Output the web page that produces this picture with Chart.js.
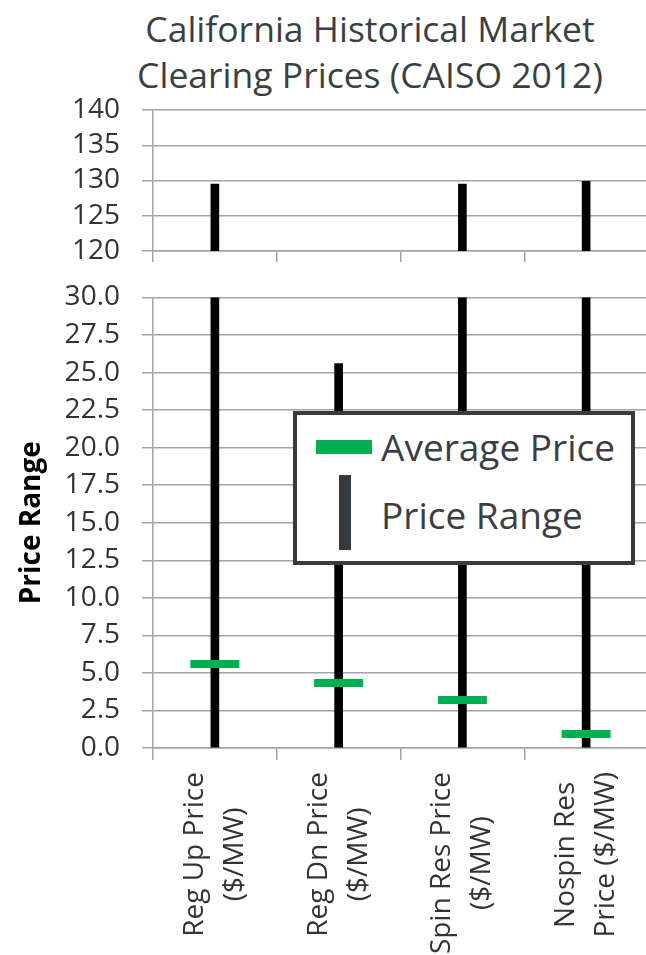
<!DOCTYPE html>
<html>
<head>
<meta charset="utf-8">
<script src="https://cdn.jsdelivr.net/npm/chart.js@4.4.1/dist/chart.umd.min.js"></script>
<style>
  html, body { margin: 0; padding: 0; background: #fff; width: 646px; height: 955px; overflow: hidden; }
  #title { position: absolute; left: 70px; width: 600px; top: 5px; text-align: center;
           font: 35.5px 'Open Sans'; line-height: 46px; color: #3a3f44; }
  canvas { position: absolute; left: 0; }
  #topChart { top: 0; width: 660px; height: 270px; }
  #botChart { top: 270px; width: 660px; height: 685px; }
  #legend { position: absolute; left: 293px; top: 411px; width: 342px; height: 154px; box-sizing: border-box;
            border: 4px solid #363b40; background: #fff; font: 37px 'Open Sans'; color: #3a3f44; }
  #legend .sw { position: absolute; }
  #legend .txt { position: absolute; left: 84px; line-height: 50px; white-space: nowrap; }
</style>
</head>
<body>
<div id="title">California Historical Market<br>Clearing Prices (CAISO 2012)</div>
<canvas id="topChart" width="660" height="270"></canvas>
<canvas id="botChart" width="660" height="685"></canvas>
<div id="legend"></div>
<script>
// market products (x labels, two lines each)
const categories = [
  ['Reg Up Price', '($/MW)'],
  ['Reg Dn Price', '($/MW)'],
  ['Spin Res Price', '($/MW)'],
  ['Nospin Res', 'Price ($/MW)'],
];
// price range min / max per product ($/MW)
const rangeLow = [0, 0, 0, 0];
const rangeHigh = [129.5, 25.6, 129.5, 129.9];
// average clearing price
const averagePrice = [5.6, 4.33, 3.2, 0.93];

// broken axis: upper and lower panel ticks
const upperTicks = [120, 125, 130, 135, 140];
const lowerTicks = [0, 2.5, 5, 7.5, 10, 12.5, 15, 17.5, 20, 22.5, 25, 27.5, 30];

const GRID = '#a3a3a3';
const TEXT = '#333333';
const GREEN = '#00B050';

Chart.defaults.font.family = "'Open Sans'";
Chart.defaults.color = TEXT;

const rangeData = categories.map((_, i) => [rangeLow[i], rangeHigh[i]]);

function rangeDataset() {
  return {
    type: 'bar',
    label: 'Price Range',
    data: rangeData,
    backgroundColor: '#000',
    barThickness: 8,
    order: 1,
  };
}

function avgDataset() {
  return {
    type: 'line',
    label: 'Average Price',
    data: averagePrice,
    showLine: false,
    pointStyle: 'line',
    pointRadius: 24.5,
    pointHoverRadius: 24.5,
    pointBorderWidth: 8,
    pointBorderColor: GREEN,
    pointBackgroundColor: GREEN,
    order: 0,
  };
}

function xScale(height, tickLen) {
  return {
    offset: true,
    grid: { offset: true, drawOnChartArea: false, drawTicks: true, tickLength: tickLen, color: GRID, lineWidth: 1.5 },
    border: { color: GRID, width: 1.5 },
    ticks: { display: false },
    afterFit: s => { s.height = height; },
  };
}

function yScale(ticks, min, max, fmt, extra) {
  return Object.assign({
    min, max,
    afterBuildTicks: s => { s.ticks = ticks.map(v => ({ value: v })); },
    grid: { color: GRID, lineWidth: 1.5, tickLength: 11 },
    border: { color: GRID, width: 1.5 },
    ticks: { font: { size: 28 }, color: TEXT, padding: 22, autoSkip: false, callback: fmt },
    // fixed width, and no label overflow padding (layout padding places the panel)
    afterFit: s => { s.width = 153; s.paddingTop = 0; s.paddingBottom = 0; },
  }, extra || {});
}

const baseOptions = {
  responsive: false,
  animation: false,
  events: [],
  plugins: { legend: { display: false }, tooltip: { enabled: false } },
};

// upper panel 120-140
new Chart(document.getElementById('topChart'), {
  type: 'bar',
  data: { labels: categories, datasets: [rangeDataset()] },
  options: {
    ...baseOptions,
    layout: { autoPadding: false, padding: { top: 110, right: 12 } },
    scales: {
      x: xScale(19, 11),
      y: yScale(upperTicks, 120, 140, v => String(v)),
    },
  },
});

// rotated, centred multi-line category labels
const xLabels = {
  id: 'xLabels',
  afterDraw(chart) {
    const { ctx } = chart;
    const sx = chart.scales.x;
    ctx.save();
    ctx.font = "28px 'Open Sans'";
    ctx.fillStyle = TEXT;
    ctx.textAlign = 'center';
    ctx.textBaseline = 'middle';
    const lineGap = 40;
    categories.forEach((lines, i) => {
      const maxW = Math.max(...lines.map(l => ctx.measureText(l).width));
      const cx = sx.getPixelForValue(i);
      const cy = sx.top + 24 + maxW / 2;
      ctx.save();
      ctx.translate(cx, cy);
      ctx.rotate(-Math.PI / 2);
      lines.forEach((l, k) => {
        ctx.fillText(l, 0, (k - (lines.length - 1) / 2) * lineGap);
      });
      ctx.restore();
    });
    ctx.restore();
  },
};

// lower panel 0-30
const botChart = new Chart(document.getElementById('botChart'), {
  type: 'bar',
  data: { labels: categories, datasets: [rangeDataset(), avgDataset()] },
  options: {
    ...baseOptions,
    layout: { autoPadding: false, padding: { top: 27.5, right: 12 } },
    scales: {
      x: xScale(207, 12),
      y: yScale(lowerTicks, 0, 30, v => v.toFixed(1), {
        title: { display: true, text: 'Price Range', font: { size: 28, weight: 'bold' }, color: '#000', padding: { top: 15 } },
      }),
    },
  },
  plugins: [xLabels],
});

// legend box built from the dataset labels
const legend = document.getElementById('legend');
const [rangeDs, avgDs] = botChart.data.datasets;
legend.innerHTML =
  `<div class="sw" style="left:19px;top:25px;width:56px;height:14px;background:${avgDs.pointBorderColor}"></div>` +
  `<div class="txt" style="top:7px">${avgDs.label}</div>` +
  `<div class="sw" style="left:42px;top:60px;width:12px;height:75px;background:#343a40"></div>` +
  `<div class="txt" style="top:75px">${rangeDs.label}</div>`;
</script>
</body>
</html>
